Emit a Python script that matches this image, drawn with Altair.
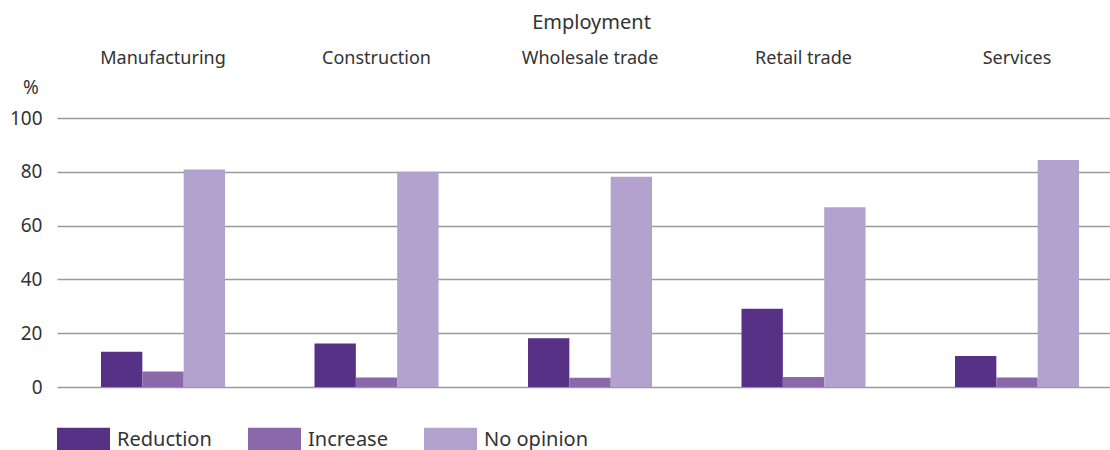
import altair as alt
import pandas as pd

sectors = ["Manufacturing", "Construction", "Wholesale trade", "Retail trade", "Services"]
series = ["Reduction", "Increase", "No opinion"]
reduction = [13.1, 16.2, 18.1, 29.1, 11.5]
increase = [5.8, 3.5, 3.4, 3.7, 3.5]
no_opinion = [80.9, 80.0, 78.2, 66.8, 84.4]
colors = ["#563185", "#8a68aa", "#b3a1ce"]
y_ticks = [0, 20, 40, 60, 80, 100]

rows = []
for i, s in enumerate(sectors):
    for name, vals in zip(series, [reduction, increase, no_opinion]):
        rows.append({"Sector": s, "Series": name, "Value": vals[i]})
df = pd.DataFrame(rows)

FONT = "Noto Sans"
TXT = "#333333"

chart = (
    alt.Chart(df)
    .mark_bar()
    .encode(
        x=alt.X(
            "Sector:N",
            sort=sectors,
            scale=alt.Scale(paddingInner=0.419, paddingOuter=0.1755, align=0.587),
            axis=alt.Axis(
                orient="top",
                title="Employment",
                titleFontSize=20,
                titleFontWeight="normal",
                titleFont=FONT,
                titleColor=TXT,
                titleX=534,
                titleY=-96,
                titleAlign="center",
                titleBaseline="middle",
                labelFontSize=18,
                labelFont=FONT,
                labelColor=TXT,
                labelAngle=0,
                labelBaseline="middle",
                labelPadding=60,
                ticks=False,
                tickSize=0,
                domain=False,
                grid=False,
            ),
        ),
        xOffset=alt.XOffset(
            "Series:N", sort=series, scale=alt.Scale(paddingInner=0, paddingOuter=0)
        ),
        y=alt.Y(
            "Value:Q",
            scale=alt.Scale(domain=[0, 100], nice=False),
            axis=alt.Axis(
                values=y_ticks,
                title="%",
                titleAngle=0,
                titleX=-26.5,
                titleY=-30.5,
                titleAlign="center",
                titleBaseline="middle",
                titleFontSize=19,
                titleFontWeight="normal",
                titleFont=FONT,
                titleColor=TXT,
                labelFontSize=19,
                labelFont=FONT,
                labelColor=TXT,
                labelPadding=15,
                ticks=False,
                tickSize=0,
                domain=False,
                grid=True,
                gridColor="#9a9a9a",
                gridWidth=1.3,
            ),
        ),
        color=alt.Color(
            "Series:N",
            sort=series,
            scale=alt.Scale(domain=series, range=colors),
            legend=alt.Legend(
                title=None,
                orient="none",
                legendX=0,
                legendY=295,
                direction="horizontal",
                symbolType="M-1,-0.45L1,-0.45L1,0.45L-1,0.45Z",
                symbolSize=2809,
                symbolStrokeWidth=0,
                symbolOpacity=1,
                labelFontSize=20,
                labelFont=FONT,
                labelColor=TXT,
                labelOffset=7,
                columnPadding=36,
                padding=0,
                labelLimit=300,
            ),
        ),
    )
    .properties(
        width=1053,
        height=269,
        autosize=alt.AutoSizeParams(type="none"),
        padding={"left": 57, "top": 118, "right": 0, "bottom": 63},
    )
    .configure_view(stroke=None)
)

chart.save("out.html", embed_options={"renderer": "svg", "actions": False})
